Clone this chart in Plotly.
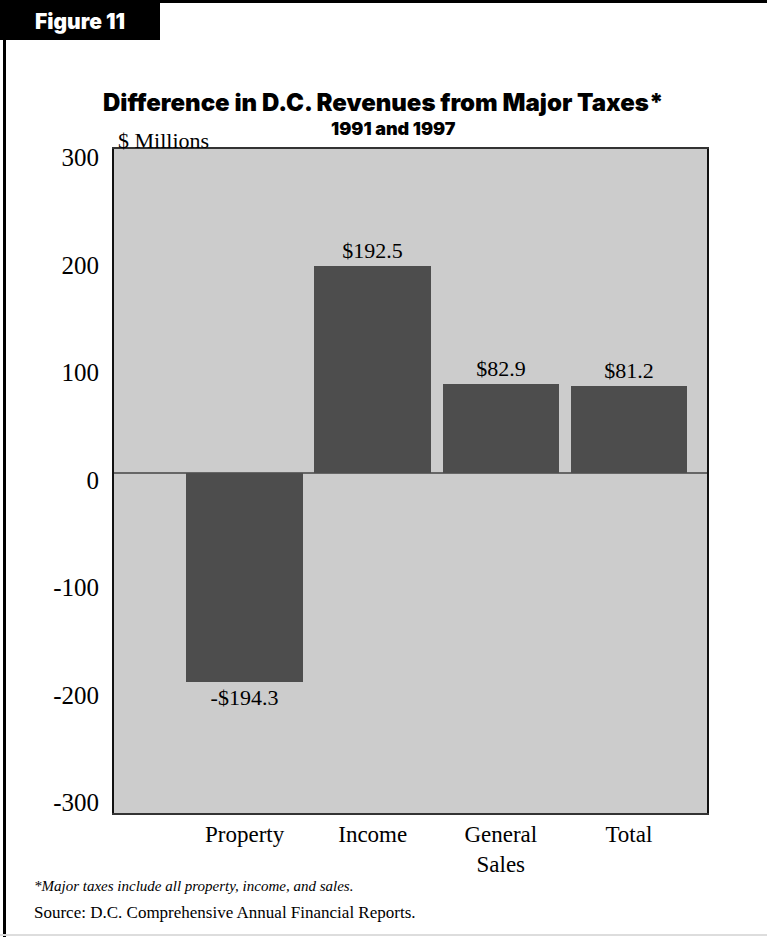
import plotly.graph_objects as go

# Change in D.C. tax revenues between 1991 and 1997, $ millions
categories = ["Property", "Income", "General<br>Sales", "Total"]
values = [-194.3, 192.5, 82.9, 81.2]
value_labels = ["-$194.3", "$192.5", "$82.9", "$81.2"]
y_ticks = [-300, -200, -100, 0, 100, 200, 300]

W, H = 767, 937
ML, MR, MT, MB = 114, 60, 149, 124
PW, PH = W - ML - MR, H - MT - MB


def px_x(x):
    return (x - ML) / PW


def px_y(y):
    return (H - MB - y) / PH


SERIF = "Liberation Serif, Times New Roman, serif"
HEAVY = "Inter, Lato, sans-serif"

fig = go.Figure(
    go.Bar(
        x=categories,
        y=values,
        text=value_labels,
        textposition="outside",
        textfont=dict(family=SERIF, size=22, color="black"),
        marker=dict(color="#4d4d4d", line=dict(width=0)),
        width=0.91,
        cliponaxis=False,
        hoverinfo="skip",
    )
)

fig.update_layout(
    width=W,
    height=H,
    margin=dict(l=ML, r=MR, t=MT, b=MB),
    paper_bgcolor="white",
    plot_bgcolor="#cccccc",
    showlegend=False,
    bargap=0,
)

fig.update_xaxes(
    type="category",
    range=[-1.02, 3.61],
    showgrid=False,
    ticks="",
    tickfont=dict(family=SERIF, size=23, color="black"),
    ticklabelstandoff=0,
    showline=True,
    linecolor="#333333",
    linewidth=1.5,
    mirror=True,
    zeroline=False,
)

fig.update_yaxes(
    range=[-316.3, 301.4],
    tickvals=y_ticks,
    ticktext=[str(v) for v in y_ticks],
    showgrid=False,
    ticks="",
    tickfont=dict(family=SERIF, size=25, color="black"),
    ticklabelstandoff=8,
    ticklabelshift=7,
    showline=True,
    linecolor="#111111",
    linewidth=2,
    mirror=True,
    zeroline=True,
    zerolinecolor="#666666",
    zerolinewidth=2,
)

shapes = [
    # page frame: top rule, left rule, faint bottom rule
    dict(type="rect", xref="paper", yref="paper",
         x0=px_x(0), x1=px_x(W), y0=px_y(0), y1=px_y(3),
         fillcolor="black", line=dict(width=0), layer="above"),
    dict(type="rect", xref="paper", yref="paper",
         x0=px_x(3), x1=px_x(6), y0=px_y(0), y1=px_y(H),
         fillcolor="black", line=dict(width=0), layer="above"),
    dict(type="rect", xref="paper", yref="paper",
         x0=px_x(0), x1=px_x(W), y0=px_y(934), y1=px_y(936),
         fillcolor="#dddddd", line=dict(width=0), layer="above"),
    # figure number tab
    dict(type="rect", xref="paper", yref="paper",
         x0=px_x(0), x1=px_x(160), y0=px_y(0), y1=px_y(40),
         fillcolor="black", line=dict(width=0), layer="above"),
]

annotations = [
    dict(text="Figure 11", x=px_x(80), y=px_y(21),
         font=dict(family=HEAVY, size=21, color="white", weight=900)),
    dict(text="Difference in D.C. Revenues from Major Taxes*", x=px_x(383), y=px_y(102),
         font=dict(family=HEAVY, size=24, color="black", weight=900)),
    dict(text="1991 and 1997", x=px_x(393), y=px_y(128),
         font=dict(family=HEAVY, size=18, color="black", weight=900)),
    dict(text="$ Millions", x=px_x(117), y=px_y(140), xanchor="left",
         font=dict(family=SERIF, size=22, color="black")),
    dict(text="<i>*Major taxes include all property, income, and sales.</i>",
         x=px_x(33), y=px_y(886), xanchor="left",
         font=dict(family=SERIF, size=15, color="black")),
    dict(text="Source: D.C. Comprehensive Annual Financial Reports.",
         x=px_x(33), y=px_y(912), xanchor="left",
         font=dict(family=SERIF, size=17, color="black")),
]
for a in annotations:
    a.update(xref="paper", yref="paper", showarrow=False,
             xanchor=a.get("xanchor", "center"), yanchor="middle",
             borderpad=0)

fig.update_layout(shapes=shapes, annotations=annotations)

fig.write_html("out.html")
